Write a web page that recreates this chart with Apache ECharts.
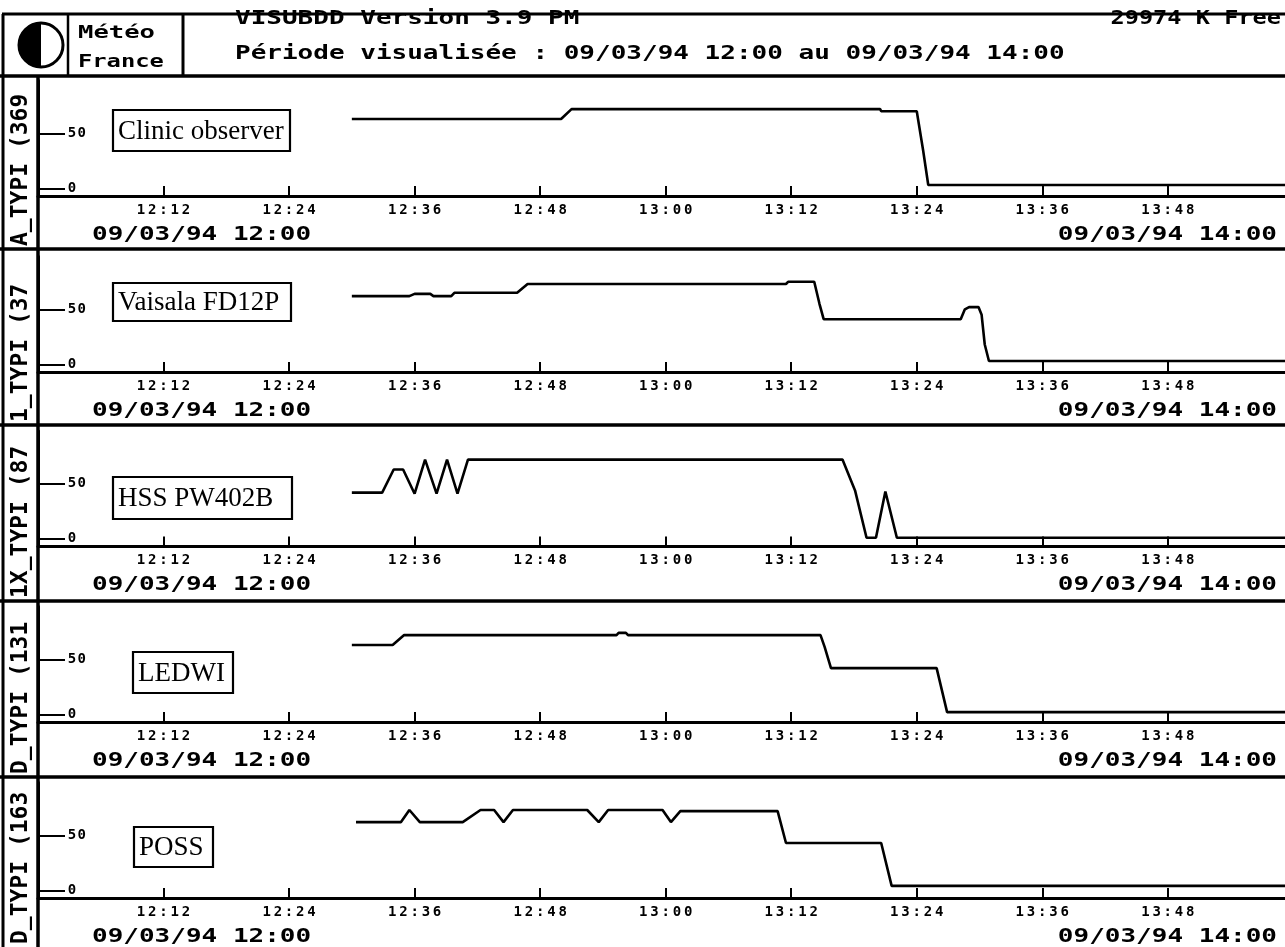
<!DOCTYPE html>
<html><head><meta charset="utf-8">
<script src="https://cdn.jsdelivr.net/npm/echarts@6/dist/echarts.min.js"></script>
<style>html,body{margin:0;padding:0;background:#fff}#c{width:1285px;height:947px}</style>
</head><body><div id="c"></div>
<script>
// ---------- data ----------
const instruments = ['Clinic observer', 'Vaisala FD12P', 'HSS PW402B', 'LEDWI', 'POSS'];
const stripLabels = ['A_TYPI (369', '1_TYPI (37', '1X_TYPI (87', 'D_TYPI (131', 'D_TYPI (163'];
const tickMinutes = [12, 24, 36, 48, 60, 72, 84, 96, 108];   // minutes after 12:00
const yTickValues = [0, 50];
const startLabel = '09/03/94 12:00';
const endLabel = '09/03/94 14:00';
const headerTitle = 'VISUBDD Version 3.9 PM';
const headerFree = '29974 K Free';
const headerPeriod = 'Période visualisée : 09/03/94 12:00 au 09/03/94 14:00';

// [minutes after 12:00, present weather code]
const clinic  = [[30,63],[50,63],[51,72],[80.5,72],[80.6,70],[84,70],[84.6,35],[85.1,3],[120,3]];
const vaisala = [[30,62],[35.5,62],[36,64],[37.5,64],[37.8,62],[39.5,62],[39.8,65],[45.8,65],[46.8,73],[71.5,73],[71.7,75],[74.2,75],[74.7,55],[75.1,41],[88.2,41],[88.6,50],[89,52],[89.9,52],[90.2,45],[90.5,18],[90.9,3],[120,3]];
const hss     = [[30,42],[32.9,42],[34,63],[34.9,63],[36,41],[37,72],[38.1,41],[39.1,72],[40.1,41],[41.1,72],[76.9,72],[78.1,44],[79.2,1],[80.1,1],[81,43],[82.1,1],[120,1]];
const ledwi   = [[30,63],[33.9,63],[35,72],[55.3,72],[55.5,74],[56.2,74],[56.4,72],[74.8,72],[75.2,61],[75.8,42],[85.9,42],[86.9,2],[120,2]];
const poss    = [[30.4,62],[34.7,62],[35.5,73],[36.5,62],[40.6,62],[42.3,73],[43.6,73],[44.5,62],[45.4,73],[52.5,73],[53.6,62],[54.5,73],[59.7,73],[60.5,62],[61.4,72],[70.7,72],[71.5,43],[80.6,43],[81.6,4],[120,4]];
const seriesData = [clinic, vaisala, hss, ledwi, poss];

// ---------- layout ----------
const W = 1285, H = 947;
const axisY = [196, 372, 546.5, 722, 898];
const sepY = [249, 425, 601, 777];
const yMin = -7, yMax = 98, pxPerUnit = 1.1;
const gridH = (yMax - yMin) * pxPerUnit;
const gridLeft = 38;
const xMax = 119.2;
const boxes = [[113,110,177,41],[113,283,178,38],[113,477,179,42],[133,652,100,41],[134,827,79,40]];
const MONO = 'DejaVu Sans Mono';

function fmtTime(v) {
  const h = 12 + Math.floor(v / 60), m = Math.round(v % 60);
  return h + ':' + (m < 10 ? '0' + m : m);
}
function spaced(s) {
  return s.split('').map(ch => '{c|' + ch + '}').join('');
}

const grids = [], xAxes = [], yAxes = [], series = [];
axisY.forEach((ay, i) => {
  grids.push({ left: gridLeft, right: 0, top: ay - gridH, height: gridH, containLabel: false });
  xAxes.push({
    gridIndex: i, type: 'value', min: 0, max: xMax,
    axisLine: { show: true, onZero: false, lineStyle: { color: '#000', width: 3 } },
    axisTick: { show: true, inside: true, length: 10, customValues: tickMinutes, lineStyle: { color: '#000', width: 2 } },
    axisLabel: {
      show: true, customValues: tickMinutes, margin: 7,
      formatter: v => spaced(fmtTime(v)),
      rich: { c: { fontFamily: MONO, fontWeight: 'bold', fontSize: 14, color: '#000', padding: [0, 1.4, 0, 1.4] } }
    },
    splitLine: { show: false }
  });
  yAxes.push({
    gridIndex: i, type: 'value', min: yMin, max: yMax,
    axisLine: { show: true, lineStyle: { color: '#000', width: 3 } },
    axisTick: { show: true, inside: true, length: 27, customValues: yTickValues, lineStyle: { color: '#000', width: 2 } },
    axisLabel: {
      show: true, inside: true, margin: 29, customValues: yTickValues,
      formatter: v => spaced(String(v)),
      rich: { c: { fontFamily: MONO, fontWeight: 'bold', fontSize: 14, color: '#000', padding: [0, 0.7, 0, 0.7] } }
    },
    splitLine: { show: false }
  });
  series.push({
    type: 'line', xAxisIndex: i, yAxisIndex: i, data: seriesData[i],
    showSymbol: false, symbol: 'none', smooth: false, clip: true,
    lineStyle: { color: '#000', width: 2.6 }, silent: true
  });
});

// ---------- decorations ----------
const g = [];
function hline(y, x1, x2, w) { g.push({ type: 'line', shape: { x1, y1: y, x2, y2: y }, style: { stroke: '#000', lineWidth: w || 3 }, z: 50 }); }
function vline(x, y1, y2, w) { g.push({ type: 'line', shape: { x1: x, y1, x2: x, y2 }, style: { stroke: '#000', lineWidth: w || 3 }, z: 50 }); }
function txt(text, x, y, size, opts) {
  opts = opts || {};
  g.push({
    type: 'text', x, y, scaleX: opts.sx || 1, rotation: opts.rot || 0, z: 60,
    style: {
      text, fill: '#000', fontFamily: opts.family || MONO, fontWeight: opts.weight || 'bold', fontSize: size,
      textAlign: opts.align || 'left', textVerticalAlign: 'middle'
    }
  });
}

// header frame
hline(14, 2, W, 3);
hline(76, 0, W, 3.5);
vline(3, 14, H, 3);
vline(68, 14, 76, 2.5);
vline(183, 14, 76, 3);
// logo
g.push({ type: 'sector', shape: { cx: 41, cy: 45, r: 22, r0: 0, startAngle: Math.PI / 2, endAngle: Math.PI * 1.5 }, style: { fill: '#000' }, z: 55 });
g.push({ type: 'circle', shape: { cx: 41, cy: 45, r: 22 }, style: { fill: null, stroke: '#000', lineWidth: 3 }, z: 55 });
txt('Météo', 78, 33, 18, { sx: 1.42 });
txt('France', 78, 62, 18, { sx: 1.32 });
txt(headerTitle, 235, 19, 20, { sx: 1.3 });
txt(headerFree, 1281, 19, 20, { sx: 1.18, align: 'right' });
txt(headerPeriod, 235, 54, 20, { sx: 1.3 });

// left strip
vline(38, 76, H, 3.5);
sepY.forEach(y => hline(y, 0, W, 3.5));

const panelBot = [249, 425, 601, 777, H];
axisY.forEach((ay, i) => {
  txt(startLabel, 92, ay + 38.5, 20, { sx: 1.3 });
  txt(endLabel, 1277, ay + 38.5, 20, { sx: 1.3, align: 'right' });
  // rotated strip label, reading upward
  txt(stripLabels[i], 21, panelBot[i] - 3, 23, { sx: 1.0, rot: Math.PI / 2 });
  // instrument box
  const b = boxes[i];
  g.push({ type: 'rect', shape: { x: b[0], y: b[1], width: b[2], height: b[3] }, style: { fill: '#fff', stroke: '#000', lineWidth: 2.2 }, z: 58 });
  txt(instruments[i], b[0] + 5, b[1] + b[3] / 2 + 1, 27, { family: 'Liberation Serif', weight: 'normal' });
});

const chart = echarts.init(document.getElementById('c'), null, { renderer: 'canvas' });
chart.setOption({
  animation: false,
  backgroundColor: '#fff',
  grid: grids, xAxis: xAxes, yAxis: yAxes, series,
  graphic: { elements: g }
});
</script></body></html>
